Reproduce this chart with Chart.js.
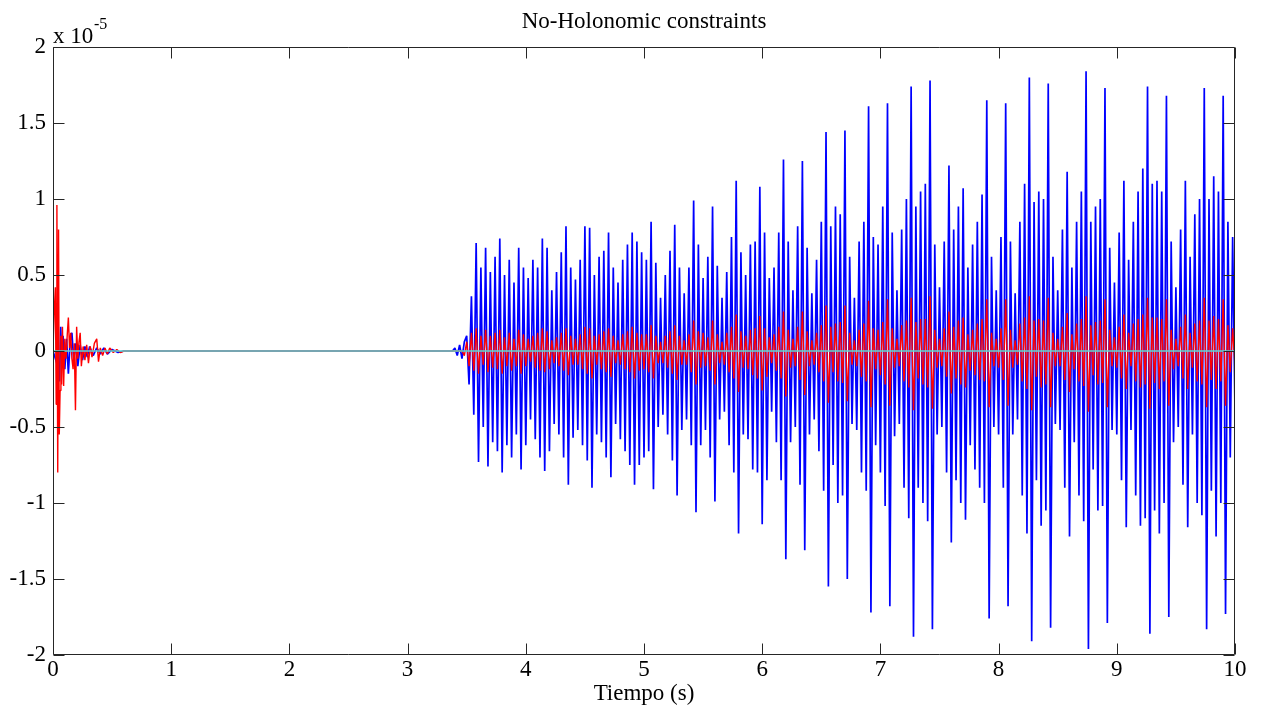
<!DOCTYPE html>
<html>
<head>
<meta charset="utf-8">
<script src="https://cdn.jsdelivr.net/npm/chart.js@4.4.1/dist/chart.umd.min.js"></script>
<style>
  html, body { margin: 0; padding: 0; background: #fff; }
</style>
</head>
<body>
<canvas id="chart" width="1261" height="709"></canvas>
<script>
// values are in units of 1e-5 (the axis shows "x 10^-5")
var xTickValues = [0, 1, 2, 3, 4, 5, 6, 7, 8, 9, 10];
var yTickValues = [-2, -1.5, -1, -0.5, 0, 0.5, 1, 1.5, 2];

// start-up transient (time in s)
var blueEarlyT = [0.000, 0.040, 0.055, 0.065, 0.075, 0.085, 0.100, 0.115, 0.130, 0.145, 0.160, 0.175, 0.190,
                  0.210, 0.230, 0.250, 0.270, 0.290, 0.310, 0.340, 0.370, 0.400, 0.430, 0.460, 0.500, 0.550,
                  0.600, 3.380, 3.400, 3.420, 3.440, 3.460, 3.480];
var blueEarlyV = [0.00, -0.10, -0.20, 0.16, -0.05, 0.10, -0.12, 0.08, -0.15, 0.06, 0.12, -0.06, 0.05,
                  -0.10, 0.04, -0.06, 0.03, -0.04, 0.03, -0.03, 0.02, -0.02, 0.02, -0.02, 0.01, -0.01,
                  0.00, 0.00, 0.02, -0.03, 0.04, -0.05, 0.06];

var redEarlyT = [0.000, 0.010, 0.020, 0.027, 0.033, 0.040, 0.047, 0.053, 0.060, 0.067, 0.073, 0.080, 0.090,
                 0.100, 0.110, 0.120, 0.130, 0.140, 0.150, 0.160, 0.170, 0.180, 0.190, 0.200, 0.210, 0.220,
                 0.230, 0.240, 0.255, 0.270, 0.285, 0.300, 0.315, 0.330, 0.350, 0.370, 0.385, 0.400, 0.420,
                 0.440, 0.460, 0.480, 0.510, 0.540, 0.570, 0.600, 3.460, 3.480];
var redEarlyV = [0.00, 0.25, 0.42, -0.35, 0.96, -0.80, 0.80, -0.55, -0.26, 0.10, -0.22, 0.16, -0.23,
                 0.08, -0.05, 0.10, 0.22, 0.02, 0.12, -0.05, -0.12, 0.05, -0.39, 0.16, -0.05, 0.06,
                 0.12, -0.10, 0.03, -0.06, 0.04, -0.08, 0.03, -0.04, 0.05, 0.08, -0.07, 0.02, -0.03,
                 0.02, -0.02, 0.02, -0.01, 0.01, -0.01, 0.00, 0.00, -0.03];

// sustained oscillation, one value every 0.02 s from 3.5 s to 10 s (rows of 0.5 s)
var lateStart = 3.5;
var lateStep = 0.02;

var blueLate = [
  0.10, -0.22, 0.36, -0.42, 0.71, -0.73, 0.55, -0.50, 0.68, -0.76, 0.52, -0.60, 0.62, -0.66, 0.74, -0.80, 0.50, -0.62, 0.60, -0.70, 0.45, -0.55, 0.68, -0.78, 0.55,
  -0.62, 0.48, -0.45, 0.60, -0.58, 0.55, -0.70, 0.74, -0.79, 0.68, -0.66, 0.40, -0.48, 0.52, -0.55, 0.65, -0.70, 0.82, -0.88, 0.55, -0.57, 0.47, -0.52, 0.60, -0.62,
  0.82, -0.72, 0.81, -0.90, 0.50, -0.55, 0.62, -0.60, 0.66, -0.70, 0.78, -0.83, 0.55, -0.48, 0.45, -0.58, 0.60, -0.66, 0.70, -0.75, 0.78, -0.88, 0.72, -0.75, 0.65,
  -0.70, 0.60, -0.66, 0.85, -0.91, 0.58, -0.50, 0.35, -0.42, 0.50, -0.55, 0.66, -0.72, 0.83, -0.95, 0.55, -0.52, 0.38, -0.45, 0.55, -0.62, 0.99, -1.06, 0.70, -0.62,
  0.48, -0.52, 0.62, -0.70, 0.95, -0.99, 0.56, -0.45, 0.35, -0.40, 0.52, -0.62, 0.75, -0.80, 1.12, -1.20, 0.65, -0.55, 0.50, -0.58, 0.70, -0.78, 0.72, -0.80, 1.08,
  -1.14, 0.78, -0.85, 0.48, -0.40, 0.55, -0.60, 0.78, -0.85, 1.26, -1.37, 0.72, -0.60, 0.40, -0.50, 0.82, -0.88, 1.25, -1.31, 0.68, -0.55, 0.38, -0.45, 0.60, -0.66,
  0.85, -0.92, 1.44, -1.55, 0.82, -0.75, 0.95, -1.00, 0.90, -0.95, 1.45, -1.50, 0.62, -0.48, 0.35, -0.52, 0.72, -0.80, 0.85, -0.92, 1.61, -1.72, 0.75, -0.62, 0.70,
  -0.80, 0.95, -1.02, 1.63, -1.68, 0.78, -0.56, 0.40, -0.48, 0.80, -0.90, 1.00, -1.10, 1.74, -1.88, 0.95, -0.90, 1.05, -1.00, 1.10, -1.12, 1.78, -1.83, 0.70, -0.55,
  0.42, -0.50, 0.72, -0.80, 1.22, -1.26, 0.80, -0.85, 0.95, -1.00, 1.07, -1.11, 0.55, -0.62, 0.70, -0.78, 0.85, -0.90, 1.03, -1.00, 1.65, -1.76, 0.62, -0.50, 0.40,
  -0.55, 0.75, -0.90, 1.63, -1.68, 0.72, -0.55, 0.38, -0.45, 0.85, -0.95, 1.10, -1.20, 1.80, -1.91, 0.98, -0.85, 1.05, -1.15, 1.00, -1.05, 1.76, -1.82, 0.62, -0.48,
  0.40, -0.52, 0.80, -0.90, 1.18, -1.22, 0.55, -0.60, 0.85, -0.95, 1.05, -1.12, 1.84, -1.96, 0.85, -0.78, 0.95, -1.05, 1.00, -1.02, 1.73, -1.79, 0.68, -0.52, 0.45,
  -0.55, 0.78, -0.85, 1.12, -1.16, 0.60, -0.52, 0.85, -0.95, 1.05, -1.15, 1.20, -1.10, 1.74, -1.86, 1.10, -1.05, 1.12, -1.20, 1.05, -1.00, 1.68, -1.75, 0.72, -0.60,
  0.42, -0.50, 0.80, -0.88, 1.12, -1.16, 0.62, -0.55, 0.90, -1.00, 1.00, -1.08, 1.73, -1.83, 1.00, -0.92, 1.15, -1.22, 1.05, -1.00, 1.68, -1.73, 0.85, -0.70, 0.75,
  -0.40
];

var redLate = [
  0.06, -0.10, 0.12, -0.13, 0.15, -0.15, 0.10, -0.09, 0.14, -0.14, 0.10, -0.11, 0.12, -0.12, 0.14, -0.15, 0.09, -0.10, 0.12, -0.13, 0.08, -0.10, 0.14, -0.15, 0.11,
  -0.10, 0.08, -0.07, 0.10, -0.11, 0.12, -0.13, 0.15, -0.14, 0.13, -0.12, 0.07, -0.08, 0.09, -0.10, 0.12, -0.13, 0.15, -0.16, 0.10, -0.09, 0.08, -0.09, 0.11, -0.12,
  0.16, -0.15, 0.15, -0.18, 0.10, -0.09, 0.11, -0.12, 0.13, -0.14, 0.15, -0.17, 0.10, -0.08, 0.07, -0.09, 0.11, -0.12, 0.13, -0.14, 0.16, -0.18, 0.12, -0.13, 0.11,
  -0.12, 0.11, -0.14, 0.17, -0.18, 0.10, -0.08, 0.06, -0.08, 0.10, -0.11, 0.13, -0.15, 0.17, -0.19, 0.10, -0.09, 0.07, -0.09, 0.11, -0.14, 0.20, -0.22, 0.13, -0.11,
  0.12, -0.10, 0.09, -0.13, 0.20, -0.22, 0.11, -0.08, 0.06, -0.09, 0.12, -0.14, 0.16, -0.18, 0.24, -0.27, 0.13, -0.11, 0.10, -0.12, 0.14, -0.16, 0.15, -0.18, 0.23,
  -0.26, 0.15, -0.17, 0.09, -0.08, 0.11, -0.13, 0.16, -0.18, 0.26, -0.30, 0.14, -0.11, 0.08, -0.10, 0.16, -0.19, 0.26, -0.29, 0.13, -0.10, 0.07, -0.09, 0.12, -0.14,
  0.17, -0.20, 0.30, -0.34, 0.16, -0.14, 0.18, -0.20, 0.19, -0.21, 0.30, -0.33, 0.12, -0.09, 0.07, -0.10, 0.14, -0.17, 0.18, -0.20, 0.33, -0.37, 0.15, -0.12, 0.14,
  -0.16, 0.19, -0.22, 0.34, -0.36, 0.15, -0.11, 0.08, -0.10, 0.17, -0.20, 0.20, -0.24, 0.35, -0.39, 0.19, -0.18, 0.21, -0.22, 0.21, -0.24, 0.36, -0.38, 0.14, -0.11,
  0.08, -0.10, 0.15, -0.17, 0.26, -0.28, 0.16, -0.18, 0.20, -0.22, 0.22, -0.24, 0.11, -0.13, 0.14, -0.16, 0.18, -0.19, 0.21, -0.20, 0.34, -0.37, 0.12, -0.10, 0.08,
  -0.11, 0.15, -0.19, 0.34, -0.36, 0.14, -0.11, 0.07, -0.09, 0.18, -0.20, 0.22, -0.25, 0.36, -0.39, 0.20, -0.17, 0.21, -0.24, 0.20, -0.22, 0.35, -0.37, 0.12, -0.10,
  0.08, -0.10, 0.16, -0.19, 0.25, -0.27, 0.11, -0.12, 0.18, -0.20, 0.21, -0.23, 0.36, -0.40, 0.17, -0.16, 0.19, -0.22, 0.20, -0.21, 0.34, -0.37, 0.14, -0.10, 0.09,
  -0.11, 0.16, -0.18, 0.24, -0.25, 0.12, -0.10, 0.18, -0.20, 0.21, -0.24, 0.24, -0.22, 0.35, -0.38, 0.22, -0.21, 0.22, -0.25, 0.21, -0.20, 0.34, -0.36, 0.14, -0.12,
  0.08, -0.10, 0.16, -0.18, 0.24, -0.25, 0.12, -0.11, 0.18, -0.20, 0.20, -0.22, 0.35, -0.37, 0.20, -0.19, 0.23, -0.25, 0.21, -0.20, 0.34, -0.36, 0.17, -0.14, 0.15,
  -0.10
];

var cyanT = [0, 10];
var cyanV = [0, 0];

var serif = '"Liberation Serif", "Times New Roman", serif';

function toPoints(ts, vs) {
  return ts.map((t, i) => ({x: t, y: vs[i]}));
}
function gridPoints(vs) {
  return vs.map((v, i) => ({x: lateStart + lateStep * i, y: v}));
}

// matlab style box with inward ticks, title and exponent label
var matlabFrame = {
  id: 'matlabFrame',
  afterDatasetsDraw(chart) {
    var ctx = chart.ctx, a = chart.chartArea, xs = chart.scales.x, ys = chart.scales.y;
    var tl = 11;
    ctx.save();
    ctx.strokeStyle = '#262626';
    ctx.lineWidth = 1;
    ctx.beginPath();
    var L = Math.round(a.left) + 0.5, R = Math.round(a.right) - 0.5;
    var T = Math.round(a.top) + 0.5, B = Math.round(a.bottom) - 0.5;
    ctx.rect(L, T, R - L, B - T);
    xTickValues.forEach(v => {
      var px = Math.round(xs.getPixelForValue(v)) + 0.5;
      ctx.moveTo(px, B); ctx.lineTo(px, B - tl);
      ctx.moveTo(px, T); ctx.lineTo(px, T + tl);
    });
    yTickValues.forEach(v => {
      var py = Math.round(ys.getPixelForValue(v)) + 0.5;
      ctx.moveTo(L, py); ctx.lineTo(L + tl, py);
      ctx.moveTo(R, py); ctx.lineTo(R - tl, py);
    });
    ctx.stroke();
    ctx.restore();
  },
  afterDraw(chart) {
    var ctx = chart.ctx, a = chart.chartArea;
    ctx.save();
    ctx.fillStyle = '#000';
    ctx.font = '23px ' + serif;
    ctx.textAlign = 'center';
    ctx.textBaseline = 'middle';
    ctx.fillText('No-Holonomic constraints', (a.left + a.right) / 2, 22);
    ctx.textAlign = 'left';
    ctx.textBaseline = 'alphabetic';
    ctx.fillText('x 10', 53, 43);
    ctx.font = '16px ' + serif;
    ctx.fillText('-5', 94, 29);
    ctx.restore();
  }
};

var ctx = document.getElementById('chart').getContext('2d');
var chart = new Chart(ctx, {
  type: 'scatter',
  data: {
    datasets: [
      {
        label: 'c',
        data: toPoints(cyanT, cyanV),
        showLine: true,
        borderColor: 'rgb(90, 215, 215)',
        borderWidth: 1.6,
        pointRadius: 0,
        order: 0
      },
      {
        label: 'b',
        data: toPoints(redEarlyT, redEarlyV).concat(gridPoints(redLate)),
        showLine: true,
        borderColor: 'rgb(255, 0, 0)',
        borderWidth: 1.4,
        borderJoinStyle: 'bevel',
        pointRadius: 0,
        order: 1
      },
      {
        label: 'a',
        data: toPoints(blueEarlyT, blueEarlyV).concat(gridPoints(blueLate)),
        showLine: true,
        borderColor: 'rgb(0, 0, 255)',
        borderWidth: 1.7,
        borderJoinStyle: 'bevel',
        pointRadius: 0,
        order: 2
      }
    ]
  },
  options: {
    responsive: false,
    animation: false,
    layout: {padding: {top: 47, right: 26, left: 0, bottom: 0}},
    plugins: {legend: {display: false}, tooltip: {enabled: false}},
    scales: {
      x: {
        type: 'linear',
        min: 0, max: 10,
        grid: {display: false, drawTicks: false},
        border: {display: false},
        afterBuildTicks: s => { s.ticks = xTickValues.map(v => ({value: v})); },
        afterFit: s => { s.height = 54; },
        ticks: {color: '#000', padding: 1, font: {family: serif, size: 23}, callback: v => String(v)},
        title: {display: true, text: 'Tiempo (s)', color: '#000', padding: {top: 0, bottom: 1},
                font: {family: serif, size: 23}}
      },
      y: {
        min: -2, max: 2,
        grid: {display: false, drawTicks: false},
        border: {display: false},
        afterBuildTicks: s => { s.ticks = yTickValues.map(v => ({value: v})); },
        afterFit: s => { s.width = 53; },
        ticks: {color: '#000', padding: 7, font: {family: serif, size: 23}, callback: v => String(v)}
      }
    }
  },
  plugins: [matlabFrame]
});
</script>
</body>
</html>
